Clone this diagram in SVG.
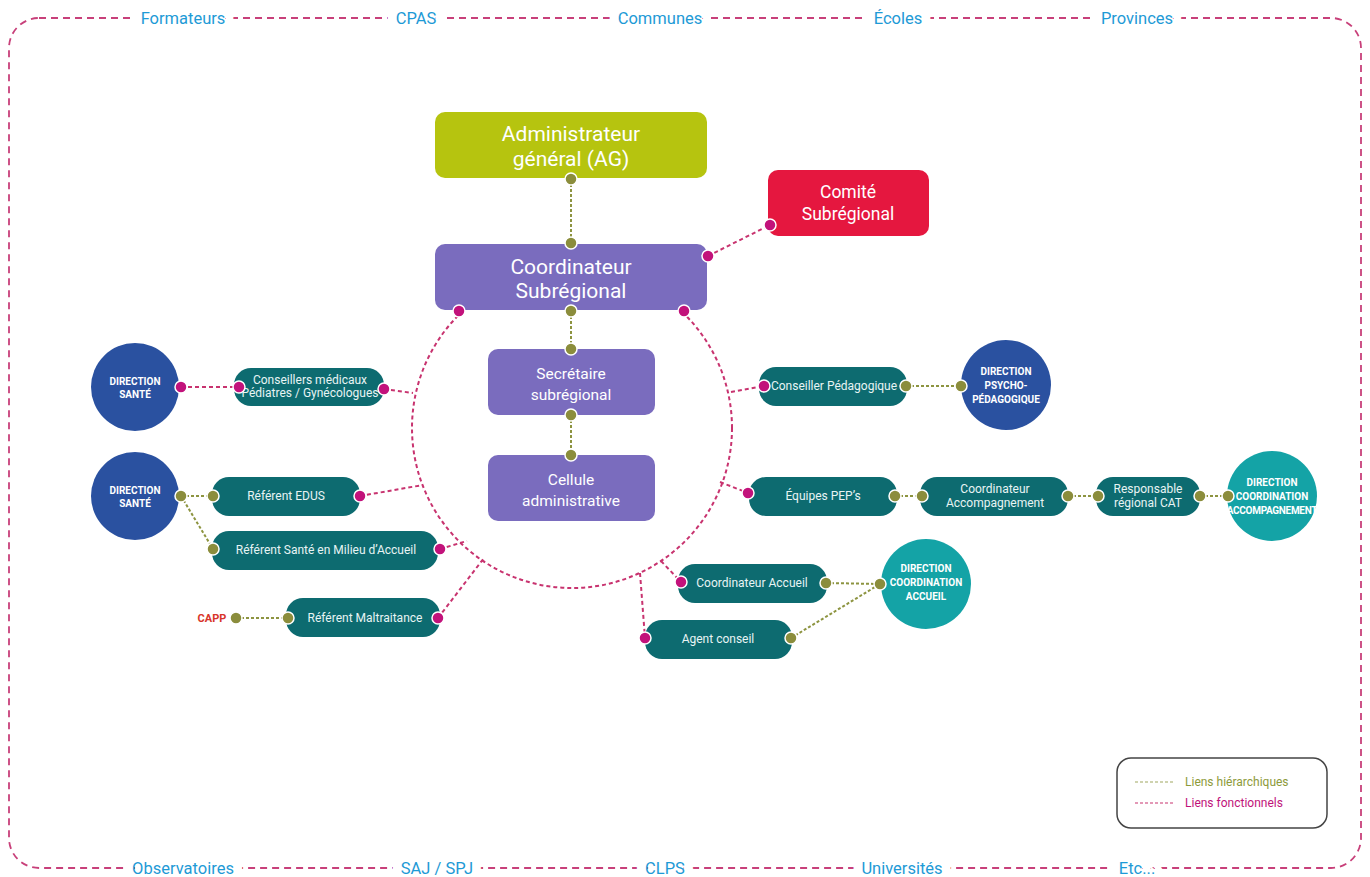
<svg xmlns="http://www.w3.org/2000/svg" width="1370" height="877" viewBox="0 0 1370 877">
<style>
.bg{fill:#fff}
.border{fill:none;stroke:#c8407a;stroke-width:1.8;stroke-dasharray:7 5}
.ext{font-family:Roboto,"Liberation Sans",sans-serif;font-size:16.5px;fill:#1e9ad6;stroke:#fff;stroke-width:18;stroke-linejoin:round;paint-order:stroke;text-anchor:middle}
.fn{fill:none;stroke:#c8336f;stroke-width:2;stroke-dasharray:4 3}
.hi{fill:none;stroke:#8d9440;stroke-width:2;stroke-dasharray:3 2}
.gd{fill:#8b8d3c;stroke:#fff;stroke-width:1.5}
.pd{fill:#c2127b;stroke:#fff;stroke-width:1.5}
.big{font-family:Roboto,"Liberation Sans",sans-serif;fill:#fff;text-anchor:middle}
.tb{fill:#0d6b70}
.tt{font-family:Roboto,"Liberation Sans",sans-serif;font-size:12px;fill:#e8f4f4;text-anchor:middle}
.ct{font-family:Roboto,"Liberation Sans",sans-serif;font-size:10px;font-weight:bold;fill:#fff;text-anchor:middle}
.blue{fill:#2a51a0}
.teal{fill:#14a3a6}
.purple{fill:#7a6cbe}
</style>
<rect class="bg" width="1370" height="877"/>
<g id="frame">
<rect class="border" x="9" y="18" width="1352" height="850" rx="30"/>
<text class="ext" x="183" y="24">Formateurs</text>
<text class="ext" x="416" y="24">CPAS</text>
<text class="ext" x="660" y="24">Communes</text>
<text class="ext" x="898" y="24">Écoles</text>
<text class="ext" x="1137" y="24">Provinces</text>
<text class="ext" x="183" y="874">Observatoires</text>
<text class="ext" x="437" y="874">SAJ / SPJ</text>
<text class="ext" x="665" y="874">CLPS</text>
<text class="ext" x="902" y="874">Universités</text>
<text class="ext" x="1137" y="874">Etc...</text>
</g>
<g id="connectors">
<circle class="fn" cx="572" cy="428" r="160"/>
<line class="hi" x1="571" y1="179" x2="571" y2="243"/>
<line class="fn" x1="708" y1="256" x2="770" y2="225"/>
<line class="hi" x1="571" y1="311" x2="571" y2="349"/>
<line class="hi" x1="571" y1="415" x2="571" y2="455"/>
<line class="fn" x1="181" y1="387" x2="239" y2="387"/>
<line class="fn" x1="384" y1="389" x2="413" y2="393"/>
<line class="hi" x1="181" y1="496" x2="213" y2="496"/>
<line class="hi" x1="181" y1="496" x2="213" y2="549"/>
<line class="fn" x1="360" y1="496" x2="423" y2="485"/>
<line class="fn" x1="440" y1="549" x2="467" y2="541"/>
<line class="hi" x1="236" y1="618" x2="288" y2="618"/>
<line class="fn" x1="438" y1="618" x2="484" y2="558"/>
<line class="fn" x1="731" y1="392" x2="764" y2="386"/>
<line class="hi" x1="906" y1="386" x2="961" y2="386"/>
<line class="fn" x1="720" y1="482" x2="748" y2="493"/>
<line class="hi" x1="895" y1="496" x2="922" y2="496"/>
<line class="hi" x1="1068" y1="496" x2="1098" y2="496"/>
<line class="hi" x1="1200" y1="496" x2="1228" y2="496"/>
<line class="fn" x1="661" y1="561" x2="681" y2="582"/>
<line class="hi" x1="826" y1="583" x2="880" y2="584"/>
<line class="fn" x1="640" y1="573" x2="645" y2="638"/>
<line class="hi" x1="791" y1="638" x2="880" y2="584"/>
</g>
<g id="ag">
<rect x="435" y="112" width="272" height="66" rx="10" fill="#b6c40f"/>
<text class="big" x="571" y="141" font-size="21">Administrateur</text>
<text class="big" x="571" y="166" font-size="21">général (AG)</text>
<circle class="gd" cx="571" cy="179" r="6"/>
</g>
<g id="comite">
<rect x="768" y="170" width="161" height="66" rx="10" fill="#e5173f"/>
<text class="big" x="848" y="198" font-size="17.5">Comité</text>
<text class="big" x="848" y="220" font-size="17.5">Subrégional</text>
<circle class="pd" cx="770" cy="225" r="6"/>
</g>
<g id="coordinateur">
<rect class="purple" x="435" y="244" width="272" height="66" rx="10"/>
<text class="big" x="571" y="274" font-size="21">Coordinateur</text>
<text class="big" x="571" y="298" font-size="21">Subrégional</text>
<circle class="gd" cx="571" cy="243" r="6"/>
<circle class="pd" cx="708" cy="256" r="6"/>
<circle class="pd" cx="459" cy="311" r="6"/>
<circle class="gd" cx="571" cy="311" r="6"/>
<circle class="pd" cx="684" cy="311" r="6"/>
</g>
<g id="secretaire">
<rect class="purple" x="488" y="349" width="167" height="66" rx="10"/>
<text class="big" x="571" y="379" font-size="15.5">Secrétaire</text>
<text class="big" x="571" y="400" font-size="15.5">subrégional</text>
<circle class="gd" cx="571" cy="349" r="6"/>
<circle class="gd" cx="571" cy="415" r="6"/>
</g>
<g id="cellule">
<rect class="purple" x="488" y="455" width="167" height="66" rx="10"/>
<text class="big" x="571" y="485" font-size="15.5">Cellule</text>
<text class="big" x="571" y="506" font-size="15.5">administrative</text>
<circle class="gd" cx="571" cy="455" r="6"/>
</g>
<g id="dir-sante-1">
<circle class="blue" cx="135" cy="387" r="44"/>
<text class="ct" x="135" y="385">DIRECTION</text>
<text class="ct" x="135" y="398">SANTÉ</text>
<circle class="pd" cx="181" cy="387" r="6"/>
</g>
<g id="conseillers-medicaux">
<rect class="tb" x="234" y="368" width="150" height="38" rx="17"/>
<text class="tt" x="310" y="384" font-size="10">Conseillers médicaux</text>
<text class="tt" x="310" y="397" font-size="10">Pédiatres / Gynécologues</text>
<circle class="pd" cx="239" cy="387" r="6"/>
<circle class="pd" cx="384" cy="389" r="6"/>
</g>
<g id="dir-sante-2">
<circle class="blue" cx="135" cy="496" r="44"/>
<text class="ct" x="135" y="494">DIRECTION</text>
<text class="ct" x="135" y="507">SANTÉ</text>
<circle class="gd" cx="181" cy="496" r="6"/>
</g>
<g id="referent-edus">
<rect class="tb" x="212" y="477" width="148" height="39" rx="17"/>
<text class="tt" x="286" y="500">Référent EDUS</text>
<circle class="gd" cx="213" cy="496" r="6"/>
<circle class="pd" cx="360" cy="496" r="6"/>
</g>
<g id="referent-sante">
<rect class="tb" x="212" y="531" width="226" height="39" rx="17"/>
<text class="tt" x="326" y="554">Référent Santé en Milieu d’Accueil</text>
<circle class="gd" cx="213" cy="549" r="6"/>
<circle class="pd" cx="440" cy="549" r="6"/>
</g>
<g id="capp">
<text x="212" y="622" font-family="Roboto,'Liberation Sans',sans-serif" font-size="11" font-weight="bold" fill="#d8352a" text-anchor="middle">CAPP</text>
<circle class="gd" cx="236" cy="618" r="6"/>
</g>
<g id="referent-maltraitance">
<rect class="tb" x="286" y="598" width="154" height="39" rx="17"/>
<text class="tt" x="365" y="622">Référent Maltraitance</text>
<circle class="gd" cx="288" cy="618" r="6"/>
<circle class="pd" cx="438" cy="618" r="6"/>
</g>
<g id="conseiller-pedagogique">
<rect class="tb" x="759" y="367" width="148" height="39" rx="17"/>
<text class="tt" x="834" y="390" font-size="11.5">Conseiller Pédagogique</text>
<circle class="pd" cx="764" cy="386" r="6"/>
<circle class="gd" cx="906" cy="386" r="6"/>
</g>
<g id="dir-psycho">
<circle class="blue" cx="1006" cy="385" r="45"/>
<text class="ct" x="1006" y="375">DIRECTION</text>
<text class="ct" x="1006" y="389">PSYCHO-</text>
<text class="ct" x="1006" y="403">PÉDAGOGIQUE</text>
<circle class="gd" cx="961" cy="386" r="6"/>
</g>
<g id="equipes-pep">
<rect class="tb" x="749" y="477" width="148" height="39" rx="17"/>
<text class="tt" x="823" y="500">Équipes PEP’s</text>
<circle class="pd" cx="748" cy="493" r="6"/>
<circle class="gd" cx="895" cy="496" r="6"/>
</g>
<g id="coord-accompagnement">
<rect class="tb" x="920" y="477" width="148" height="39" rx="17"/>
<text class="tt" x="995" y="493" font-size="11.5">Coordinateur</text>
<text class="tt" x="995" y="507" font-size="11.5">Accompagnement</text>
<circle class="gd" cx="922" cy="496" r="6"/>
<circle class="gd" cx="1068" cy="496" r="6"/>
</g>
<g id="responsable-cat">
<rect class="tb" x="1096" y="477" width="104" height="39" rx="17"/>
<text class="tt" x="1148" y="493" font-size="11.5">Responsable</text>
<text class="tt" x="1148" y="507" font-size="11.5">régional CAT</text>
<circle class="gd" cx="1098" cy="496" r="6"/>
<circle class="gd" cx="1200" cy="496" r="6"/>
</g>
<g id="dir-coord-accompagnement">
<circle class="teal" cx="1272" cy="496" r="45"/>
<text class="ct" x="1272" y="486">DIRECTION</text>
<text class="ct" x="1272" y="500">COORDINATION</text>
<text class="ct" x="1272" y="514" font-size="8.5" letter-spacing="-0.3">ACCOMPAGNEMENT</text>
<circle class="gd" cx="1228" cy="496" r="6"/>
</g>
<g id="coord-accueil">
<rect class="tb" x="678" y="564" width="149" height="39" rx="17"/>
<text class="tt" x="752" y="587">Coordinateur Accueil</text>
<circle class="pd" cx="681" cy="582" r="6"/>
<circle class="gd" cx="826" cy="583" r="6"/>
</g>
<g id="dir-coord-accueil">
<circle class="teal" cx="926" cy="584" r="45"/>
<text class="ct" x="926" y="572">DIRECTION</text>
<text class="ct" x="926" y="586">COORDINATION</text>
<text class="ct" x="926" y="600">ACCUEIL</text>
<circle class="gd" cx="880" cy="584" r="6"/>
</g>
<g id="agent-conseil">
<rect class="tb" x="645" y="620" width="147" height="39" rx="17"/>
<text class="tt" x="718" y="643">Agent conseil</text>
<circle class="pd" cx="645" cy="638" r="6"/>
<circle class="gd" cx="791" cy="638" r="6"/>
</g>
<g id="legend">
<rect x="1117" y="758" width="210" height="70" rx="14" fill="#fff" stroke="#444" stroke-width="1.5"/>
<line x1="1135" y1="782" x2="1175" y2="782" stroke="#a0a860" stroke-width="1.2" stroke-dasharray="3 2"/>
<text x="1185" y="786" font-family="Roboto,'Liberation Sans',sans-serif" font-size="12" fill="#8d9a3a">Liens hiérarchiques</text>
<line x1="1135" y1="803" x2="1175" y2="803" stroke="#c8336f" stroke-width="1.2" stroke-dasharray="3 2"/>
<text x="1185" y="807" font-family="Roboto,'Liberation Sans',sans-serif" font-size="12" fill="#c0127a">Liens fonctionnels</text>
</g>
</svg>
